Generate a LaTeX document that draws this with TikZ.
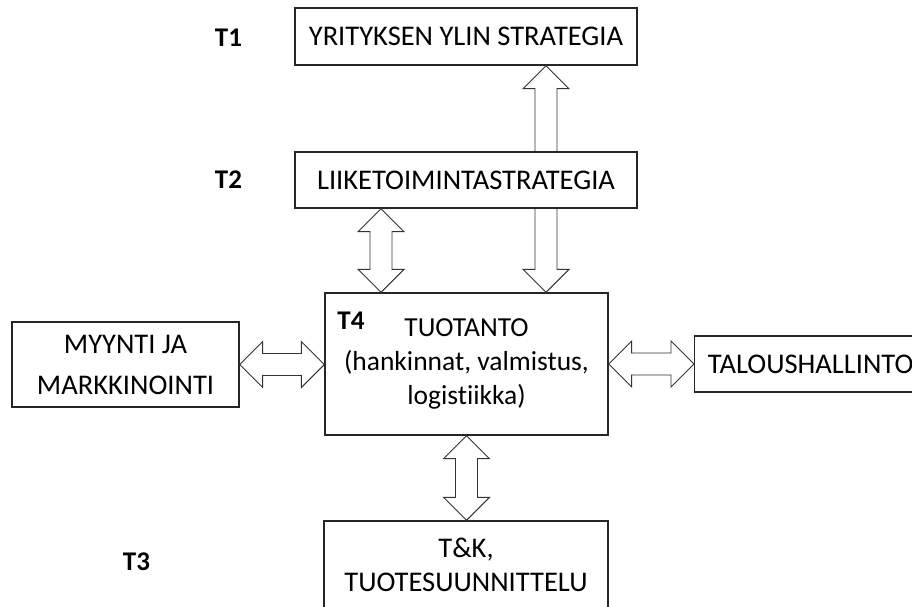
\documentclass[tikz,border=0pt]{standalone}
\usepackage{fontspec}
\setmainfont{Carlito}[Ligatures=NoCommon]
\usetikzlibrary{calc}

% vertical block arrow with heads at both ends: #1 upper tip, #2 lower tip
\newcommand\vdoublearrow[2]{%
  \draw[blockarrow] (#1) -- ($(#1)+(23,23)$) -- ($(#1)+(11,23)$) -- ($(#2)+(11,-23)$)
    -- ($(#2)+(23,-23)$) -- (#2) -- ($(#2)+(-23,-23)$) -- ($(#2)+(-11,-23)$)
    -- ($(#1)+(-11,23)$) -- ($(#1)+(-23,23)$) -- cycle;}
% horizontal block arrow with heads at both ends: #1 left tip, #2 right tip
\newcommand\hdoublearrow[2]{%
  \draw[blockarrow] (#1) -- ($(#1)+(23,-23)$) -- ($(#1)+(23,-11)$) -- ($(#2)+(-23,-11)$)
    -- ($(#2)+(-23,-23)$) -- (#2) -- ($(#2)+(-23,23)$) -- ($(#2)+(-23,11)$)
    -- ($(#1)+(23,11)$) -- ($(#1)+(23,23)$) -- cycle;}

\begin{document}
\begin{tikzpicture}[x=1pt,y=-1pt,
  box/.style={draw=black!85, line width=1.3pt, fill=white, inner sep=0pt, align=center,
    font=\fontsize{28.5}{34}\selectfont},
  blockarrow/.style={draw=black!80, line width=0.9pt, fill=white, line join=miter},
  level/.style={font=\fontsize{27}{30}\selectfont\bfseries, inner sep=0pt}]
\useasboundingbox (0,0) rectangle (912,606);
\clip (0,0) rectangle (912,606);

% boxes
\node[box, minimum width=342pt, minimum height=57pt] (yrit) at (466,36.5) {YRITYKSEN YLIN STRATEGIA};
\node[box, minimum width=283pt, minimum height=142pt, font=\fontsize{27.5}{34}\selectfont] (tuot) at (466.5,364)
  {TUOTANTO\\(hankinnat, valmistus,\\logistiikka)};

% long arrow from production up to corporate strategy, passing behind the business box
\coordinate (bigb) at ($(tuot.north)+(79.5,0)$);
\coordinate (bigt) at (yrit.south -| bigb);
\vdoublearrow{bigt}{bigb}
% the business strategy box is drawn over the middle of that arrow
\node[box, minimum width=342pt, minimum height=56pt] (liike) at (466,180) {LIIKETOIMINTASTRATEGIA};

\node[box, minimum width=227pt, minimum height=85pt, font=\fontsize{28.5}{41}\selectfont] (myy) at (125.5,364.5)
  {MYYNTI JA\\MARKKINOINTI};
\node[box, minimum width=232pt, minimum height=56pt, anchor=west] (talo) at (694,364) {TALOUSHALLINTO};
\node[box, minimum width=284pt, minimum height=88pt] (tk) at (466,565) {T\&K,\\TUOTESUUNNITTELU};

% level labels
\node[level] (t1) at (228.5,38) {T1};
\node[level] (t2) at (228.5,180) {T2};
\node[level] (t3) at (136.5,562) {T3};
\node[level] (t4) at (351,321) {T4};

% connecting block arrows
\coordinate (la) at ($(liike.south)+(-85,0)$);
\coordinate (lb) at (tuot.north -| la);
\vdoublearrow{la}{lb}
\coordinate (ba) at (tuot.south);
\coordinate (bb) at (tk.north -| ba);
\vdoublearrow{ba}{bb}
\coordinate (ha) at (myy.east);
\coordinate (hb) at (tuot.west |- ha);
\hdoublearrow{ha}{hb}
\coordinate (ra) at (tuot.east);
\coordinate (rb) at (talo.west |- ra);
\hdoublearrow{ra}{rb}
\end{tikzpicture}
\end{document}
